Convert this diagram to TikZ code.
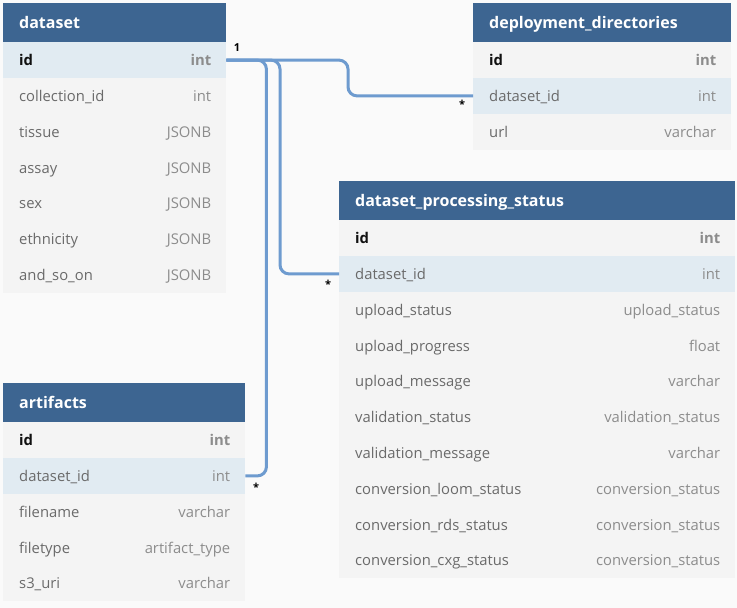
\documentclass[tikz,border=0pt]{standalone}
\usepackage{fontspec}
\setmainfont{Open Sans}
\usetikzlibrary{calc}
\definecolor{bgc}{HTML}{FAFAFA}
\definecolor{hdrc}{HTML}{3D6591}
\definecolor{rowc}{HTML}{F4F4F4}
\definecolor{hlc}{HTML}{E1EBF2}
\definecolor{namec}{HTML}{6A6A6A}
\definecolor{keyc}{HTML}{111111}
\definecolor{typec}{HTML}{8C8C8C}
\definecolor{linkc}{HTML}{6E9BCF}
\newcommand\ertable[6]{%
  \node[hdr, minimum width=#4pt, anchor=north west] (#1) at (#2,#3) {};
  \node[hdrtxt, anchor=base west] (#1-t) at ([xshift=16pt,yshift=-5.3pt]#1.west) {#5};
  \foreach \n/\t/\f/\c/\w [count=\i] in {#6} {
    \node[rowbox, fill=\f, minimum width=#4pt, anchor=north west] (#1-\i) at (#2, #3+39+35.8*\i-35.8) {};
    \node[txt, text=\c, font=\fontsize{14.8}{17}\selectfont\w, anchor=base west] (#1-\i-n) at ([xshift=16pt,yshift=-5.6pt]#1-\i.west) {\n};
    \node[txt, text=typec, font=\fontsize{14.8}{17}\selectfont\w, anchor=base east] (#1-\i-t) at ([xshift=-15pt,yshift=-5.6pt]#1-\i.east) {\t};
  }%
}
\begin{document}
\begin{tikzpicture}[x=1pt,y=-1pt,
  hdr/.style={fill=hdrc, draw=none, inner sep=0pt, minimum height=39pt},
  hdrtxt/.style={text=white, inner sep=0pt, font=\fontsize{16}{18}\selectfont\bfseries},
  rowbox/.style={draw=none, inner sep=0pt, minimum height=35.8pt},
  txt/.style={inner sep=0pt},
  conn/.style={draw=linkc, line width=3pt, rounded corners=9pt},
  card/.style={inner sep=0pt, text=black, font=\fontsize{11}{13}\selectfont\bfseries}]
\useasboundingbox[fill=bgc] (0,0) rectangle (737,608);

\ertable{ds}{3}{3}{223}{dataset}{%
  id/int/hlc/keyc/\bfseries,
  collection\_id/int/rowc/namec/\mdseries,
  tissue/JSONB/rowc/namec/\mdseries,
  assay/JSONB/rowc/namec/\mdseries,
  sex/JSONB/rowc/namec/\mdseries,
  ethnicity/JSONB/rowc/namec/\mdseries,
  and\_so\_on/JSONB/rowc/namec/\mdseries}

\ertable{dd}{473}{3}{258}{deployment\_directories}{%
  id/int/rowc/keyc/\bfseries,
  dataset\_id/int/hlc/namec/\mdseries,
  url/varchar/rowc/namec/\mdseries}

\ertable{dps}{339}{181}{396}{dataset\_processing\_status}{%
  id/int/rowc/keyc/\bfseries,
  dataset\_id/int/hlc/namec/\mdseries,
  upload\_status/upload\_status/rowc/namec/\mdseries,
  upload\_progress/float/rowc/namec/\mdseries,
  upload\_message/varchar/rowc/namec/\mdseries,
  validation\_status/validation\_status/rowc/namec/\mdseries,
  validation\_message/varchar/rowc/namec/\mdseries,
  conversion\_loom\_status/conversion\_status/rowc/namec/\mdseries,
  conversion\_rds\_status/conversion\_status/rowc/namec/\mdseries,
  conversion\_cxg\_status/conversion\_status/rowc/namec/\mdseries}

\ertable{art}{3}{383}{242}{artifacts}{%
  id/int/rowc/keyc/\bfseries,
  dataset\_id/int/hlc/namec/\mdseries,
  filename/varchar/rowc/namec/\mdseries,
  filetype/artifact\_type/rowc/namec/\mdseries,
  s3\_uri/varchar/rowc/namec/\mdseries}

\draw[conn] (ds-1.east) -| ([xshift=-125pt]dd-2.west) -- (dd-2.west);
\draw[conn] (ds-1.east) -| ([xshift=-59pt]dps-2.west) -- (dps-2.west);
\draw[conn] (ds-1.east) -| ([xshift=21pt]art-2.east) -- (art-2.east);

\node[card] (c1) at (237,48) {1};
\node[card] (c2) at (462,104) {*};
\node[card] (c3) at (328,284) {*};
\node[card] (c4) at (256,487) {*};
\end{tikzpicture}
\end{document}
